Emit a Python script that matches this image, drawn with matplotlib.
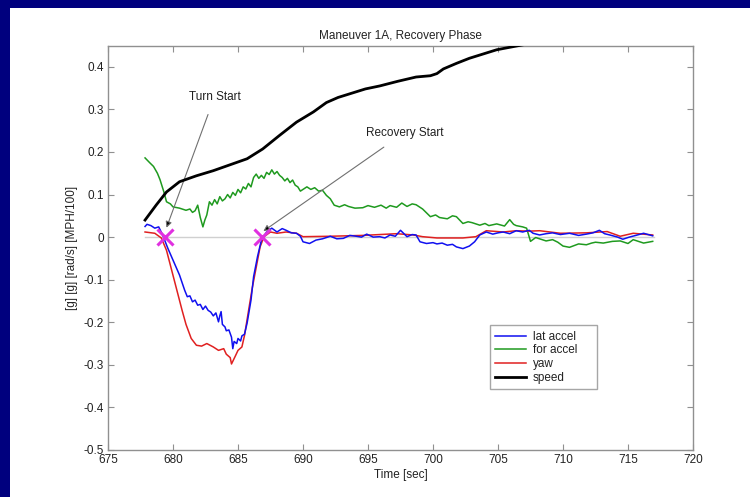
import matplotlib
matplotlib.use("Agg")
import matplotlib.pyplot as plt
from matplotlib.patches import Rectangle

plt.rcParams['font.family'] = ['Liberation Sans', 'DejaVu Sans']

# ---------------- data ----------------
speed_t = [677.85, 678.7, 679.5, 680.5, 681.8, 683.1, 684.4, 685.7, 686.9, 688.2,
           689.5, 690.8, 691.8, 692.7, 694.8, 695.9, 697.3, 698.7, 699.8, 700.3,
           700.8, 701.8, 702.8, 704.9, 707.5, 708.2]
speed_v = [0.040, 0.075, 0.106, 0.130, 0.144, 0.156, 0.170, 0.184, 0.207, 0.239,
           0.270, 0.294, 0.316, 0.328, 0.348, 0.355, 0.366, 0.376, 0.379, 0.384,
           0.395, 0.408, 0.420, 0.440, 0.455, 0.46]

for_t = [677.85, 678.2, 678.5, 678.8, 679.0, 679.3, 679.5, 679.8, 680.0, 680.5, 681.0,
         681.3, 681.5, 681.7, 681.9, 682.1, 682.3, 682.45, 682.6, 682.8, 683.0,
         683.2, 683.4, 683.6, 683.8, 684.0, 684.2, 684.4, 684.6, 684.8, 685.0,
         685.2, 685.4, 685.6, 685.8, 686.0, 686.2, 686.4, 686.6, 686.8, 687.0,
         687.2, 687.4, 687.6, 687.8, 688.0, 688.2, 688.4, 688.6, 688.8, 689.0,
         689.2, 689.4, 689.6, 689.8, 690.0, 690.3, 690.6, 690.9, 691.2, 691.5,
         691.8, 692.1, 692.4, 692.8, 693.2, 693.5, 694.0, 694.6, 695.0, 695.5,
         696.0, 696.4, 696.7, 697.2, 697.6, 698.0, 698.4, 698.7, 699.2, 699.8,
         700.2, 700.5, 701.1, 701.5, 701.8, 702.3, 702.7, 703.0, 703.6, 704.0,
         704.3, 704.9, 705.5, 705.9, 706.2, 706.4, 706.9, 707.2, 707.5, 707.9,
         708.2, 708.7, 709.2, 709.6, 710.0, 710.5, 711.2, 711.8, 712.2, 712.5,
         713.1, 713.8, 714.4, 715.0, 715.4, 715.8, 716.2, 716.9]
for_v = [0.186, 0.175, 0.166, 0.150, 0.135, 0.106, 0.083, 0.078, 0.071, 0.068, 0.063,
         0.066, 0.058, 0.062, 0.075, 0.046, 0.024, 0.040, 0.052, 0.083, 0.075,
         0.088, 0.078, 0.095, 0.085, 0.090, 0.100, 0.092, 0.105, 0.098, 0.112,
         0.104, 0.118, 0.113, 0.126, 0.118, 0.140, 0.148, 0.138, 0.145, 0.138,
         0.152, 0.147, 0.158, 0.148, 0.154, 0.145, 0.140, 0.132, 0.138, 0.128,
         0.134, 0.122, 0.118, 0.108, 0.112, 0.118, 0.112, 0.116, 0.108, 0.110,
         0.098, 0.090, 0.075, 0.071, 0.076, 0.072, 0.068, 0.069, 0.074, 0.070,
         0.075, 0.068, 0.074, 0.070, 0.080, 0.072, 0.078, 0.076, 0.066, 0.048,
         0.052, 0.046, 0.043, 0.050, 0.048, 0.032, 0.036, 0.034, 0.028, 0.032,
         0.027, 0.031, 0.026, 0.041, 0.030, 0.027, 0.024, 0.021, -0.010, -0.001,
         -0.004, -0.009, -0.006, -0.012, -0.021, -0.024, -0.016, -0.018, -0.014, -0.012,
         -0.014, -0.010, -0.009, -0.015, -0.006, -0.010, -0.014, -0.010]

lat_t = [677.85, 678.0, 678.3, 678.6, 678.9, 679.2, 679.6, 680.0, 680.5, 680.9,
         681.1, 681.3, 681.5, 681.7, 681.9, 682.1, 682.3, 682.5, 682.7, 682.9,
         683.1, 683.3, 683.5, 683.6, 683.7, 683.8, 684.0, 684.1, 684.3, 684.5,
         684.6, 684.7, 684.9, 685.0, 685.2, 685.3, 685.5, 685.7, 686.0, 686.2,
         686.5, 686.8, 687.2, 687.6, 688.0, 688.4, 688.7, 689.1, 689.5, 689.8,
         690.0, 690.5, 691.0, 691.5, 692.1, 692.6, 693.1, 693.6, 694.1, 694.5,
         694.9, 695.4, 695.9, 696.3, 696.7, 697.1, 697.5, 698.0, 698.4, 698.7,
         699.0, 699.5, 700.0, 700.3, 700.7, 701.1, 701.5, 701.8, 702.3, 702.8,
         703.2, 703.6, 704.1, 704.6, 705.0, 705.4, 705.9, 706.4, 706.9, 707.4,
         707.7, 708.2, 708.7, 709.2, 709.8, 710.5, 711.2, 711.8, 712.3, 712.8,
         713.2, 713.6, 714.2, 714.6, 715.1, 715.6, 716.2, 716.9]
lat_v = [0.025, 0.030, 0.027, 0.021, 0.024, 0.005, -0.026, -0.054, -0.089, -0.125,
         -0.140, -0.138, -0.152, -0.148, -0.160, -0.158, -0.170, -0.162, -0.172, -0.176,
         -0.185, -0.178, -0.199, -0.185, -0.175, -0.205, -0.211, -0.220, -0.218, -0.235,
         -0.262, -0.245, -0.250, -0.238, -0.244, -0.232, -0.228, -0.202, -0.148, -0.093,
         -0.046, -0.007, 0.012, 0.021, 0.012, 0.020, 0.016, 0.010, 0.009, 0.002,
         -0.011, -0.015, -0.007, -0.004, 0.002, -0.004, -0.003, 0.004, 0.002, 0.000,
         0.007, 0.000, 0.001, -0.002, 0.005, 0.002, 0.016, 0.001, 0.006, 0.005,
         -0.011, -0.015, -0.013, -0.016, -0.014, -0.019, -0.017, -0.023, -0.027, -0.021,
         -0.011, 0.005, 0.012, 0.007, 0.010, 0.012, 0.008, 0.015, 0.012, 0.016,
         0.009, 0.005, 0.008, 0.010, 0.006, 0.009, 0.004, 0.007, 0.010, 0.016,
         0.008, 0.005, 0.000, -0.005, 0.000, 0.004, 0.009, 0.003]

yaw_t = [677.85, 678.6, 679.1, 679.5, 679.9, 680.3, 680.7, 681.0, 681.4, 681.8,
         682.2, 682.6, 683.1, 683.5, 683.9, 684.1, 684.4, 684.5, 684.8, 685.0,
         685.3, 685.5, 685.8, 686.1, 686.4, 686.7, 687.0, 687.5, 688.0, 688.7,
         689.5, 690.0, 692.1, 694.6, 697.2, 698.5, 699.2, 700.3, 702.3, 703.3,
         704.1, 705.4, 706.4, 707.4, 708.2, 709.8, 711.8, 713.4, 714.4, 715.4, 716.9]
yaw_v = [0.012, 0.009, -0.002, -0.031, -0.078, -0.125, -0.172, -0.205, -0.238, -0.254,
         -0.256, -0.250, -0.258, -0.266, -0.262, -0.275, -0.283, -0.298, -0.279, -0.266,
         -0.258, -0.231, -0.175, -0.119, -0.071, -0.023, 0.001, 0.012, 0.009, 0.012,
         0.009, 0.001, 0.002, 0.004, 0.008, 0.005, 0.001, -0.002, -0.002, 0.001,
         0.015, 0.012, 0.015, 0.014, 0.015, 0.009, 0.010, 0.013, 0.002, 0.009, 0.005]

marker_t = [679.35, 686.85]
marker_v = [0.0, 0.0]

xticks = [675, 680, 685, 690, 695, 700, 705, 710, 715, 720]
yticks = [0.4, 0.3, 0.2, 0.1, 0, -0.1, -0.2, -0.3, -0.4, -0.5]
ytick_labels = ['0.4', '0.3', '0.2', '0.1', '0', '-0.1', '-0.2', '-0.3', '-0.4', '-0.5']

# ---------------- figure ----------------
fig = plt.figure(figsize=(7.5, 4.97), dpi=100)
fig.patch.set_facecolor('white')
navy = '#00007e'
fig.patches.append(Rectangle((0, 0), 10 / 750, 1, transform=fig.transFigure,
                             facecolor=navy, edgecolor='none', zorder=-10))
fig.patches.append(Rectangle((0, 1 - 8 / 497), 1, 8 / 497, transform=fig.transFigure,
                             facecolor=navy, edgecolor='none', zorder=-10))

ax = fig.add_axes([108 / 750, 1 - 450 / 497, 585 / 750, (450 - 45.5) / 497])
ax.set_xlim(675, 720)
ax.set_ylim(-0.5, 0.45)

ax.plot([677.85, 717.0], [0, 0], color='#d0d0d0', lw=1.0, zorder=1)
ax.plot(lat_t, lat_v, color='#1010f0', lw=1.1, label='lat accel', zorder=3)
ax.plot(for_t, for_v, color='#1f9a1f', lw=1.1, label='for accel', zorder=2)
ax.plot(yaw_t, yaw_v, color='#e02020', lw=1.1, label='yaw', zorder=2.5)
ax.plot(speed_t, speed_v, color='black', lw=2.0, label='speed', zorder=4)
ax.plot(marker_t, marker_v, linestyle='none', marker='x', markersize=11,
        mew=2.2, color='#e030e0', zorder=5)

ax.annotate('Turn Start', xy=(679.5, 0.022), xytext=(683.2, 0.33),
            ha='center', va='center', fontsize=8.5, color='#202020',
            arrowprops=dict(arrowstyle='-|>', color='#707070', lw=0.8,
                            mutation_scale=9, shrinkA=7, shrinkB=0,
                            fc='black', ec='#707070'))
ax.annotate('Recovery Start', xy=(686.95, 0.014), xytext=(697.8, 0.245),
            ha='center', va='center', fontsize=8.5, color='#202020',
            arrowprops=dict(arrowstyle='-|>', color='#707070', lw=0.8,
                            mutation_scale=9, shrinkA=7, shrinkB=0,
                            fc='black', ec='#707070'))

ax.set_xticks(xticks)
ax.set_xticklabels([str(t) for t in xticks])
ax.set_yticks(yticks)
ax.set_yticklabels(ytick_labels)
ax.tick_params(direction='in', length=4, width=0.8, color='#909090',
               top=True, right=True, labelsize=8.5, labelcolor='#222222', pad=3)
for s in ax.spines.values():
    s.set_color('#909090')
    s.set_linewidth(1.0)

ax.set_title('Maneuver 1A, Recovery Phase', fontsize=8.5, color='#222222', pad=5)
ax.set_xlabel('Time [sec]', fontsize=8.5, color='#222222', labelpad=2)
ax.set_ylabel('[g] [g] [rad/s] [MPH/100]', fontsize=8.5, color='#222222', labelpad=4)

leg = ax.legend(loc='lower left', bbox_to_anchor=(0.653, 0.15, 0.183, 0.18),
                mode='expand', fontsize=8.5, frameon=True, fancybox=False,
                handlelength=2.6, handletextpad=0.6, borderpad=0.45,
                labelspacing=0.15, borderaxespad=0)
leg.get_frame().set_edgecolor('#909090')
leg.get_frame().set_linewidth(1.0)
for txt in leg.get_texts():
    txt.set_color('#222222')

fig.savefig('out.png', dpi=100, facecolor='white')
